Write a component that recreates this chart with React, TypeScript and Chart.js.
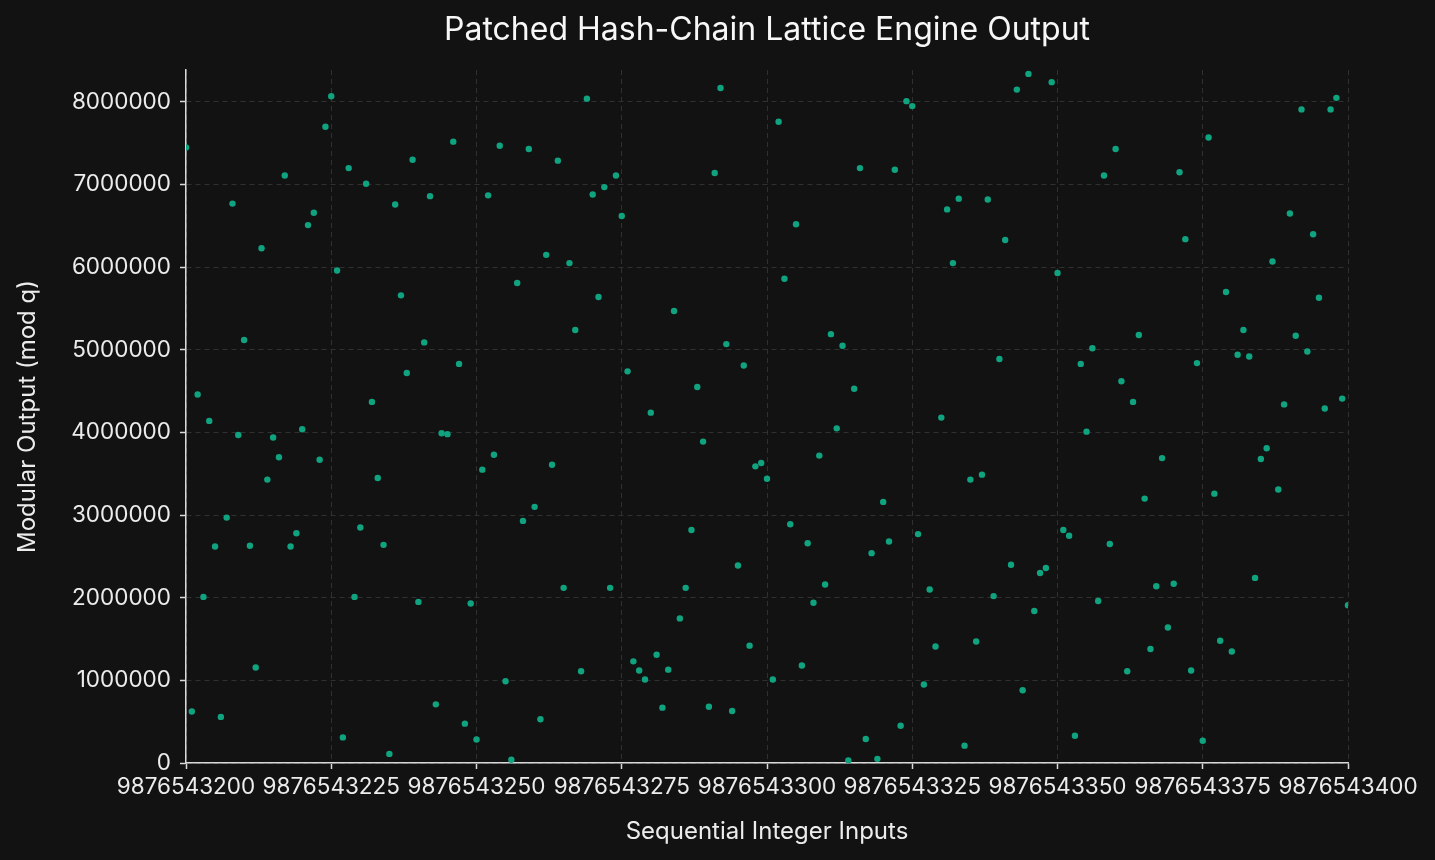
import React, { useEffect, useRef } from "react";
import { Chart, registerables } from "chart.js";

Chart.register(...registerables);

const TITLE = "Patched Hash-Chain Lattice Engine Output";
const X_LABEL = "Sequential Integer Inputs";
const Y_LABEL = "Modular Output (mod q)";

const X_START = 9876543200;
const X_END = 9876543400;
const X_TICKS = [
  9876543200, 9876543225, 9876543250, 9876543275, 9876543300,
  9876543325, 9876543350, 9876543375, 9876543400,
];
const Y_MIN = 0;
const Y_MAX = 8387000;
const Y_TICKS = [0, 1000000, 2000000, 3000000, 4000000, 5000000, 6000000, 7000000, 8000000];

// Modular outputs for consecutive inputs starting at X_START
const OUTPUTS = [
  7450000, 624000, 4460000, 2010000, 4140000, 2620000, 558000, 2970000, 6770000, 3970000,
  5120000, 2630000, 1155000, 6230000, 3430000, 3940000, 3700000, 7110000, 2620000, 2780000,
  4040000, 6510000, 6660000, 3670000, 7700000, 8070000, 5960000, 310000, 7200000, 2010000,
  2850000, 7010000, 4370000, 3450000, 2640000, 110000, 6760000, 5660000, 4720000, 7300000,
  1950000, 5090000, 6860000, 710000, 3990000, 3980000, 7520000, 4830000, 476000, 1930000,
  285000, 3550000, 6870000, 3730000, 7470000, 990000, 40000, 5810000, 2930000, 7430000,
  3100000, 530000, 6150000, 3610000, 7290000, 2120000, 6050000, 5240000, 1110000, 8040000,
  6880000, 5640000, 6970000, 2120000, 7110000, 6620000, 4740000, 1230000, 1120000, 1010000,
  4240000, 1310000, 670000, 1130000, 5470000, 1750000, 2120000, 2820000, 4550000, 3890000,
  680000, 7140000, 8170000, 5070000, 630000, 2390000, 4810000, 1420000, 3590000, 3630000,
  3440000, 1010000, 7760000, 5860000, 2890000, 6520000, 1180000, 2660000, 1940000, 3720000,
  2160000, 5190000, 4050000, 5050000, 30000, 4530000, 7200000, 290000, 2540000, 50000,
  3160000, 2680000, 7180000, 450000, 8010000, 7950000, 2770000, 950000, 2100000, 1410000,
  4180000, 6700000, 6050000, 6830000, 210000, 3430000, 1470000, 3490000, 6820000, 2020000,
  4890000, 6330000, 2400000, 8150000, 880000, 8340000, 1840000, 2300000, 2360000, 8240000,
  5930000, 2820000, 2750000, 330000, 4830000, 4010000, 5020000, 1960000, 7110000, 2650000,
  7430000, 4620000, 1110000, 4370000, 5180000, 3200000, 1380000, 2140000, 3690000, 1640000,
  2170000, 7150000, 6340000, 1120000, 4840000, 270000, 7570000, 3260000, 1480000, 5700000,
  1350000, 4940000, 5240000, 4920000, 2240000, 3680000, 3810000, 6070000, 3310000, 4340000,
  6650000, 5170000, 7910000, 4980000, 6400000, 5630000, 4290000, 7910000, 8050000, 4410000,
  1910000,
];

const FONT = "Inter, 'Noto Sans', sans-serif";
const BG = "#121212";
const TEXT = "#ececec";
const AXIS = "#d9d9d9";
const GRID = "#303030";
const DOT = "#10a37f";

const centeredTitle = {
  id: "centeredTitle",
  afterDraw(chart: any) {
    const { ctx, chartArea } = chart;
    ctx.save();
    ctx.font = `32px ${FONT}`;
    ctx.fillStyle = "#f7f7f7";
    ctx.textAlign = "center";
    ctx.textBaseline = "alphabetic";
    ctx.fillText(TITLE, (chartArea.left + chartArea.right) / 2, 39.5);
    ctx.restore();
  },
};

export default function App() {
  const ref = useRef<HTMLCanvasElement | null>(null);

  useEffect(() => {
    document.body.style.margin = "0";
    document.body.style.background = BG;
    const canvas = ref.current;
    if (!canvas) return;
    const points = OUTPUTS.map((y, i) => ({ x: X_START + i, y }));
    const tickFont = { family: FONT, size: 22.5 };
    const titleFont = { family: FONT, size: 24 };
    const gridOpts = {
      color: GRID,
      lineWidth: 1,
      drawTicks: true,
      tickLength: 6,
      tickColor: AXIS,
      tickWidth: 1.5,
      tickBorderDash: [],
    };
    const borderOpts = { display: true, color: AXIS, width: 1.5, dash: [5, 4] };
    const chart = new Chart(canvas, {
      type: "scatter",
      data: {
        datasets: [
          {
            data: points,
            backgroundColor: DOT,
            borderColor: DOT,
            borderWidth: 0,
            pointRadius: 3.2,
            pointHoverRadius: 3.2,
            clip: 0,
          },
        ],
      },
      plugins: [centeredTitle],
      options: {
        animation: false,
        responsive: false,
        devicePixelRatio: 1,
        events: [],
        layout: { padding: { left: 0, right: 87, top: 70, bottom: 0 } },
        plugins: {
          legend: { display: false },
          tooltip: { enabled: false },
          title: { display: false },
        },
        scales: {
          x: {
            type: "linear",
            min: X_START,
            max: X_END,
            afterFit: (s: any) => {
              s.height = 97;
            },
            afterBuildTicks: (s: any) => {
              s.ticks = X_TICKS.map((v) => ({ value: v }));
            },
            ticks: {
              autoSkip: false,
              maxRotation: 0,
              color: TEXT,
              font: tickFont,
              padding: 5,
              callback: (v: any) => String(v),
            },
            grid: gridOpts,
            border: borderOpts,
            title: {
              display: true,
              text: X_LABEL,
              color: TEXT,
              font: titleFont,
              padding: { top: 0, bottom: 13.6 },
            },
          },
          y: {
            type: "linear",
            min: Y_MIN,
            max: Y_MAX,
            afterFit: (s: any) => {
              s.width = 186;
            },
            afterBuildTicks: (s: any) => {
              s.ticks = Y_TICKS.map((v) => ({ value: v }));
            },
            ticks: {
              color: TEXT,
              font: tickFont,
              padding: 9,
              callback: (v: any) => String(v),
            },
            grid: gridOpts,
            border: borderOpts,
            title: {
              display: true,
              text: Y_LABEL,
              color: TEXT,
              font: titleFont,
              padding: { top: 13.6, bottom: 0 },
            },
          },
        },
      },
    });
    return () => chart.destroy();
  }, []);

  return (
    <div style={{ width: 1435, height: 860, background: BG }}>
      <canvas ref={ref} width={1435} height={860} style={{ display: "block" }} />
    </div>
  );
}
